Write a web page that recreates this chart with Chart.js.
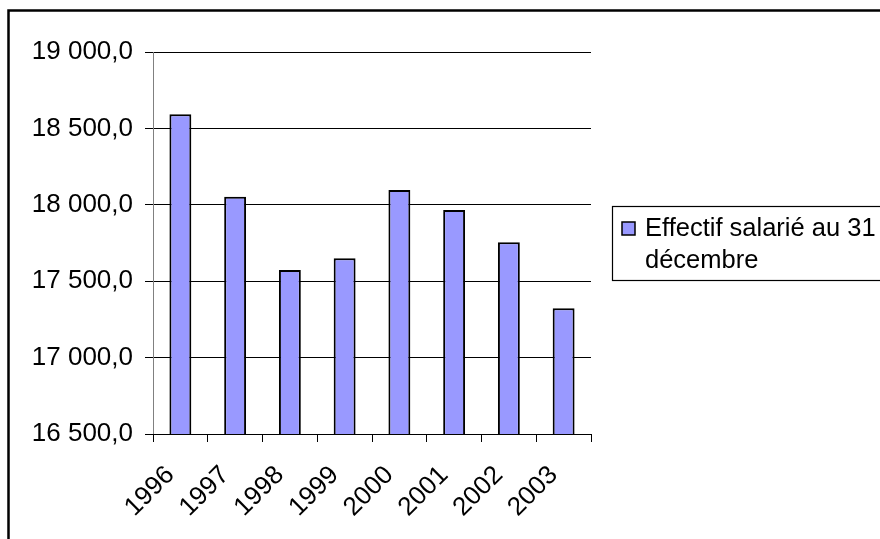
<!DOCTYPE html>
<html>
<head>
<meta charset="utf-8">
<script src="https://cdn.jsdelivr.net/npm/chart.js@4/dist/chart.umd.min.js"></script>
<style>
  body { margin: 0; background: #fff; overflow: hidden; }
  canvas { display: block; }
</style>
</head>
<body>
<canvas id="chart" width="880" height="539"></canvas>
<script>
const years = ['1996', '1997', '1998', '1999', '2000', '2001', '2002', '2003']
const effectif = [18592, 18053, 17573, 17650, 18097, 17966, 17755, 17323]
const yTicks = [16500, 17000, 17500, 18000, 18500, 19000]
const legendLines = ['Effectif salarié au 31', 'décembre']

const FONT = 'Arial, "Liberation Sans", sans-serif'
const BAR_FILL = '#9999ff'

function fmt(v) {
    const [i, d] = v.toFixed(1).split('.')
    return i.replace(/\B(?=(\d{3})+(?!\d))/g, ' ') + ',' + d
}

const frameAndLegend = {
    id: 'frameAndLegend',
    afterDraw(chart) {
        const ctx = chart.ctx
        ctx.save()
        // outer frame (only top and left visible)
        ctx.strokeStyle = '#000'
        ctx.lineWidth = 2.5
        ctx.beginPath()
        ctx.moveTo(8.5, 600)
        ctx.lineTo(8.5, 10.5)
        ctx.lineTo(900, 10.5)
        ctx.stroke()

        // legend box
        ctx.lineWidth = 1.2
        ctx.strokeRect(612.5, 206.5, 300, 74)
        ctx.fillStyle = BAR_FILL
        ctx.fillRect(622, 222, 13, 13)
        ctx.lineWidth = 1.5
        ctx.strokeRect(622, 222, 13, 13)
        ctx.fillStyle = '#000'
        ctx.font = '25.5px ' + FONT
        ctx.textBaseline = 'alphabetic'
        ctx.textAlign = 'left'
        ctx.fillText(legendLines[0], 645, 236)
        ctx.fillText(legendLines[1], 645, 268)
        ctx.restore()
    }
}

const ctx = document.getElementById('chart').getContext('2d')
new Chart(ctx, {
    type: 'bar',
    data: {
        labels: years,
        datasets: [{
            label: legendLines.join(' '),
            data: effectif,
            backgroundColor: BAR_FILL,
            borderColor: '#000',
            borderWidth: 2,
            categoryPercentage: 1,
            barPercentage: 0.4
        }]
    },
    options: {
        responsive: false,
        animation: false,
        devicePixelRatio: 1,
        layout: { padding: { top: 52, right: 289, left: 0, bottom: 0 } },
        plugins: {
            legend: { display: false },
            tooltip: { enabled: false }
        },
        scales: {
            y: {
                min: 16500,
                max: 19000,
                afterBuildTicks: scale => { scale.ticks = yTicks.map(v => ({ value: v })) },
                afterFit: scale => { scale.width = 153 },
                border: { color: '#808080', width: 1 },
                grid: {
                    color: '#000',
                    lineWidth: 1,
                    tickLength: 8,
                    drawTicks: true
                },
                ticks: {
                    color: '#000',
                    padding: 12,
                    font: { family: FONT, size: 26 },
                    callback: v => fmt(v)
                }
            },
            x: {
                afterFit: scale => { scale.height = 105 },
                border: { color: '#000', width: 1 },
                grid: {
                    offset: true,
                    drawOnChartArea: false,
                    drawTicks: true,
                    tickLength: 8,
                    color: '#000'
                },
                ticks: {
                    color: '#000',
                    maxRotation: 45,
                    minRotation: 45,
                    padding: 18,
                    labelOffset: -10,
                    font: { family: FONT, size: 26 }
                }
            }
        }
    },
    plugins: [frameAndLegend]
})
</script>
</body>
</html>
